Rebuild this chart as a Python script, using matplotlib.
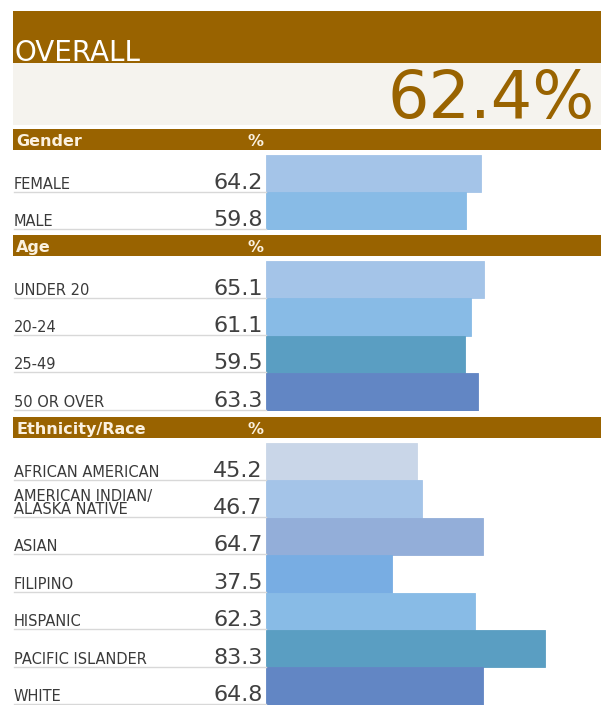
import matplotlib
matplotlib.use("Agg")
import matplotlib.pyplot as plt
from matplotlib.patches import Rectangle
from matplotlib.transforms import blended_transform_factory

plt.rcParams["font.family"] = ["DejaVu Sans"]

BROWN = "#996300"
CREAM = "#f5f3ee"

overall = "62.4%"

gender_labels = ["FEMALE", "MALE"]
gender_values = [64.2, 59.8]
gender_colors = ["#a4c4e8", "#88bbe6"]

age_labels = ["UNDER 20", "20-24", "25-49", "50 OR OVER"]
age_values = [65.1, 61.1, 59.5, 63.3]
age_colors = ["#a4c4e8", "#88bbe6", "#5a9ec2", "#6286c4"]

eth_labels = ["AFRICAN AMERICAN", "AMERICAN INDIAN/\nALASKA NATIVE", "ASIAN",
              "FILIPINO", "HISPANIC", "PACIFIC ISLANDER", "WHITE"]
eth_values = [45.2, 46.7, 64.7, 37.5, 62.3, 83.3, 64.8]
eth_colors = ["#c9d6e8", "#a4c4e8", "#93aed9", "#78ade3", "#88bbe6",
              "#5a9ec2", "#6286c4"]

W, H = 601, 705
BAR_X0 = 266      # pixel where bars start
ROW_H = 37.4

fig = plt.figure(figsize=(W / 100, H / 100), dpi=100)
bg = fig.add_axes([0, 0, 1, 1])
bg.set_xlim(0, W)
bg.set_ylim(H, 0)
bg.axis("off")

# overall block
bg.add_patch(Rectangle((13, 11), W - 13, 52, color=BROWN, lw=0))
bg.add_patch(Rectangle((13, 63), W - 13, 62, color=CREAM, lw=0))
bg.text(14, 61, "OVERALL", color="white", fontsize=20)
bg.text(595, 118, overall, color=BROWN, fontsize=47, ha="right")


def section(title, top, labels, values, colors):
    """header band plus a block of bars"""
    bg.add_patch(Rectangle((13, top), W - 13, 21, color=BROWN, lw=0))
    bg.text(16, top + 17, title, color="#fbf1e0", fontsize=11.5, weight="bold")
    bg.text(263, top + 17, "%", color="#fbf1e0", fontsize=11.5, weight="bold",
            ha="right")
    n = len(values)
    y0 = top + 26
    ax = fig.add_axes([BAR_X0 / W, 1 - (y0 + n * ROW_H) / H,
                       (W - BAR_X0) / W, n * ROW_H / H])
    ax.barh(range(n), values, height=1.0, color=colors, edgecolor=colors, lw=0.6)
    ax.set_xlim(0, 100)
    ax.set_ylim(n - 0.5, -0.5)
    ax.axis("off")
    tr = blended_transform_factory(ax.transAxes, ax.transData)
    lx = (14 - BAR_X0) / (W - BAR_X0)
    for i, (lab, v) in enumerate(zip(labels, values)):
        ax.text(lx, i + 0.4, lab, transform=tr, fontsize=10.5, color="#3a3a3a",
                va="baseline", linespacing=0.8)
        ax.text(-0.01, i + 0.4, f"{v:.1f}", transform=tr, fontsize=16,
                color="#404040", ha="right", va="baseline")
        ax.plot([lx, 0], [i + 0.48, i + 0.48], transform=tr, color="#d8d8d8",
                lw=1, clip_on=False)


section("Gender", 129, gender_labels, gender_values, gender_colors)
section("Age", 235, age_labels, age_values, age_colors)
section("Ethnicity/Race", 417, eth_labels, eth_values, eth_colors)

fig.savefig("out.png", dpi=100)
